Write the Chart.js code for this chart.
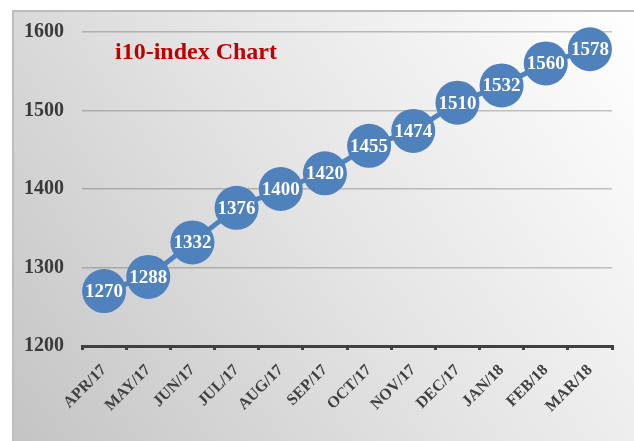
<!DOCTYPE html>
<html>
<head>
<meta charset="utf-8">
<script src="https://cdn.jsdelivr.net/npm/chart.js@4/dist/chart.umd.min.js"></script>
<style>
html,body{margin:0;padding:0;background:#fff;}
canvas{display:block;}
</style>
</head>
<body>
<canvas id="c" width="634" height="441"></canvas>
<script>
const categories = ["APR/17","MAY/17","JUN/17","JUL/17","AUG/17","SEP/17","OCT/17","NOV/17","DEC/17","JAN/18","FEB/18","MAR/18"];
const i10Values = [1270,1288,1332,1376,1400,1420,1455,1474,1510,1532,1560,1578];
const yMin = 1200, yMax = 1600, yStep = 100;
const chartTitle = "i10-index Chart";

const bgPlugin = {
  id: 'bg',
  beforeDraw(chart) {
    const ctx = chart.ctx;
    ctx.save();
    ctx.fillStyle = '#ffffff';
    ctx.fillRect(0, 0, chart.width, chart.height);
    const g = ctx.createLinearGradient(634, 11, 13, 441);
    g.addColorStop(0, '#ffffff');
    g.addColorStop(0.5, '#e4e4e4');
    g.addColorStop(1, '#c4c4c4');
    ctx.fillStyle = g;
    ctx.fillRect(13, 11, 621, 430);
    ctx.strokeStyle = '#bdbdbd';
    ctx.lineWidth = 2;
    ctx.strokeRect(13, 11, 622, 432);
    ctx.restore();
  }
};

const labelPlugin = {
  id: 'pointLabels',
  afterDatasetsDraw(chart) {
    const ctx = chart.ctx;
    const meta = chart.getDatasetMeta(0);
    ctx.save();
    ctx.fillStyle = '#ffffff';
    ctx.font = 'bold 19px "Liberation Serif", "Times New Roman", serif';
    ctx.textAlign = 'center';
    ctx.textBaseline = 'middle';
    meta.data.forEach((pt, i) => {
      ctx.fillText(String(chart.data.datasets[0].data[i]), pt.x, pt.y + 1);
    });
    ctx.fillStyle = '#c00000';
    ctx.font = 'bold 24px "Liberation Serif", "Times New Roman", serif';
    ctx.textAlign = 'left';
    ctx.fillText(chartTitle, chart.chartArea.left + 33, 53);
    ctx.restore();
  }
};

new Chart(document.getElementById('c'), {
  type: 'line',
  data: {
    labels: categories,
    datasets: [{
      data: i10Values,
      borderColor: '#4f81bd',
      borderWidth: 5,
      backgroundColor: '#4f81bd',
      pointBackgroundColor: '#4f81bd',
      pointBorderColor: '#4f81bd',
      pointBorderWidth: 0,
      pointRadius: 22,
      pointHoverRadius: 22,
      tension: 0,
      clip: false
    }]
  },
  options: {
    responsive: false,
    animation: false,
    events: [],
    layout: { padding: { left: 13, top: 32, right: 21, bottom: 0 } },
    plugins: { legend: { display: false }, tooltip: { enabled: false }, title: { display: false } },
    scales: {
      x: {
        offset: true,
        afterFit(s) { s.height = 95; },
        grid: { display: true, offset: true, drawOnChartArea: false, drawTicks: true, tickLength: 4, tickWidth: 3, tickColor: '#404040', color: '#404040', lineWidth: 3 },
        border: { display: true, color: '#404040', width: 3 },
        ticks: {
          minRotation: 45, maxRotation: 45, autoSkip: false, padding: 11,
          color: '#404040',
          font: { family: '"Liberation Serif", "Times New Roman", serif', size: 16, weight: 'bold' }
        }
      },
      y: {
        min: yMin, max: yMax,
        afterFit(s) { s.width = 69; },
        grid: { drawTicks: false, color: 'rgba(90,90,90,0.35)', lineWidth: 1.5 },
        border: { display: false },
        ticks: {
          stepSize: yStep, padding: 18,
          color: '#3a3a3a',
          callback: v => String(v),
          font: { family: '"Liberation Serif", "Times New Roman", serif', size: 20, weight: 'bold' }
        }
      }
    }
  },
  plugins: [bgPlugin, labelPlugin]
});
</script>
</body>
</html>
